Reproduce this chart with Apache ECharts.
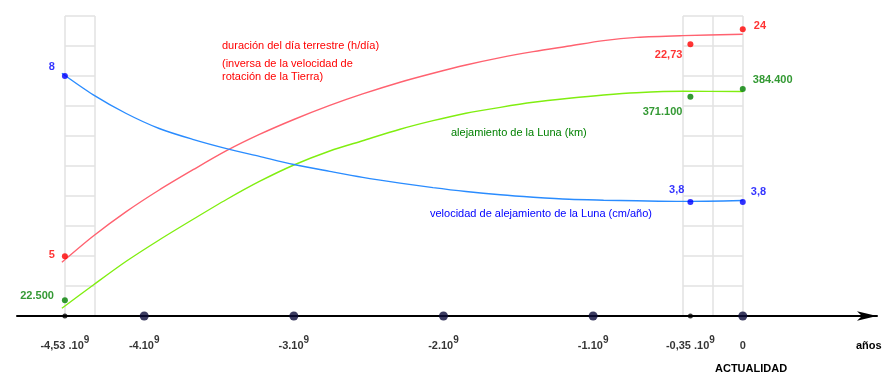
<!DOCTYPE html>
<html>
<head>
<meta charset="utf-8">
<script src="https://cdn.jsdelivr.net/npm/echarts@6/dist/echarts.min.js"></script>
<style>
html,body{margin:0;padding:0;background:#fff;}
#chart{width:893px;height:389px;}
</style>
</head>
<body>
<div id="chart"></div>
<script>
// ---- DATA (years in units of 10^9 años, negative = past) ----
const axisYears = [-4.53, -4, -3, -2, -1, -0.35, 0];
const axisLabels = ['-4,53 .10', '-4.10', '-3.10', '-2.10', '-1.10', '-0,35 .10', '0'];
const axisExponents = ['9', '9', '9', '9', '9', '9', ''];

const dotYears = [-4.53, -0.35, 0];
const dayLength = [5, 22.73, 24];            // h/día
const dayLengthLabels = ['5', '22,73', '24'];
const moonDistance = [22500, 371100, 384400]; // km
const moonDistanceLabels = ['22.500', '371.100', '384.400'];
const recessionRate = [8, 3.8, 3.8];         // cm/año
const recessionRateLabels = ['8', '3,8', '3,8'];

const curveYears = [-4.55, -4.34, -4.12, -3.9, -3.67, -3.45, -3.23, -3.0, -2.76, -2.54,
                    -2.29, -2.07, -1.85, -1.62, -1.4, -1.16, -0.93, -0.71, -0.4, 0];
const dayLengthCurve = [4.49, 6.69, 8.73, 10.54, 12.26, 13.83, 15.19, 16.44, 17.62, 18.58,
                        19.56, 20.31, 21.0, 21.62, 22.12, 22.59, 23.04, 23.31, 23.46, 23.57];
const moonDistanceCurve = [8800, 48700, 89300, 125800, 161700, 195100, 226000, 254200, 278200, 295800,
                           315400, 330100, 342800, 353000, 361600, 368500, 374100, 378000, 380400, 380100];
const recessionRateCurve = [8.09, 7.37, 6.75, 6.25, 5.88, 5.58, 5.32, 5.05, 4.82, 4.62,
                            4.43, 4.28, 4.15, 4.04, 3.96, 3.89, 3.86, 3.84, 3.82, 3.85];

const annotations = {
  day: ['duración del día terrestre (h/día)', '(inversa de la velocidad de', 'rotación de la Tierra)'],
  distance: 'alejamiento de la Luna (km)',
  rate: 'velocidad de alejamiento de la Luna (cm/año)',
  unit: 'años',
  now: 'ACTUALIDAD'
};

// ---- STYLES ----
const FONT = '"Liberation Sans", Arial, sans-serif';
const RED = '#ff0000', GREEN = '#008000', BLUE = '#0000ff';
const hidden = {axisLine:{show:false}, axisTick:{show:false}, axisLabel:{show:false}};
const gridLine = {show:true, lineStyle:{color:'#e2e2e2', width:1.5}};

// label placement per dot (align, offset from dot centre)
const dayLabelPos = [['right', [-10, -1]], ['right', [-8, 11]], ['left', [11, -3]]];
const distLabelPos = [['right', [-11, -4]], ['right', [-8, 15]], ['left', [10, -9]]];
const rateLabelPos = [['right', [-10, -9]], ['right', [-6, -12]], ['left', [8, -10]]];

function dotSeries(values, labels, pos, color, yIdx) {
  return {
    type: 'scatter', xAxisIndex: 0, yAxisIndex: yIdx, clip: false, z: 5,
    symbolSize: 6, itemStyle: {color: color},
    data: dotYears.map((x, i) => ({
      value: [x, values[i]],
      label: {
        show: true, position: 'inside', formatter: labels[i],
        align: pos[i][0], verticalAlign: 'middle', offset: pos[i][1],
        color: color, fontSize: 11, fontWeight: 'bold', fontFamily: FONT
      }
    }))
  };
}

function curve(values, color, yIdx) {
  return {
    type: 'line', xAxisIndex: 0, yAxisIndex: yIdx, smooth: 0.3, showSymbol: false,
    lineStyle: {color: color, width: 1.4}, z: 3,
    data: curveYears.map((x, i) => [x, values[i]])
  };
}

const chart = echarts.init(document.getElementById('chart'), null, {renderer: 'canvas'});
const option = {
  animation: false,
  backgroundColor: '#ffffff',
  textStyle: {fontFamily: FONT},
  grid: [
    {left: 17, right: 16, top: 16, bottom: 73},
    {left: 65, width: 30, top: 16, height: 300},
    {left: 683, width: 60, top: 16, height: 300}
  ],
  xAxis: [
    {gridIndex: 0, type: 'value', min: -4.85, max: 0.897,
     axisLine: {show: true, onZero: false, lineStyle: {color: '#000', width: 2},
                symbol: ['none', 'arrow'], symbolSize: [7, 20]},
     axisTick: {show: false}, axisLabel: {show: false}, splitLine: {show: false}},
    Object.assign({gridIndex: 1, type: 'value', min: 0, max: 1, interval: 1, splitLine: gridLine}, hidden),
    Object.assign({gridIndex: 2, type: 'value', min: 0, max: 2, interval: 1, splitLine: gridLine}, hidden)
  ],
  yAxis: [
    Object.assign({gridIndex: 0, type: 'value', min: 0, max: 25.1, splitLine: {show: false}}, hidden),
    Object.assign({gridIndex: 0, type: 'value', min: -4400, max: 509400, splitLine: {show: false}}, hidden),
    Object.assign({gridIndex: 0, type: 'value', min: 0, max: 10, splitLine: {show: false}}, hidden),
    Object.assign({gridIndex: 0, type: 'value', min: 0, max: 1, splitLine: {show: false}}, hidden),
    Object.assign({gridIndex: 1, type: 'value', min: 0, max: 10, interval: 1, splitLine: gridLine}, hidden),
    Object.assign({gridIndex: 2, type: 'value', min: 0, max: 10, interval: 1, splitLine: gridLine}, hidden)
  ],
  series: [
    curve(dayLengthCurve, '#ff6270', 0),
    curve(moonDistanceCurve, '#80ee10', 1),
    curve(recessionRateCurve, '#2a8cff', 2),
    dotSeries(dayLength, dayLengthLabels, dayLabelPos, RED, 0),
    dotSeries(moonDistance, moonDistanceLabels, distLabelPos, GREEN, 1),
    dotSeries(recessionRate, recessionRateLabels, rateLabelPos, BLUE, 2),
    {
      type: 'scatter', xAxisIndex: 0, yAxisIndex: 3, clip: false, z: 6,
      data: axisYears.map((x, i) => {
        const major = Number.isInteger(x);
        return {
          value: [x, 0],
          symbolSize: major ? 9 : 5,
          itemStyle: {color: major ? '#0a0a38' : '#000000'},
          label: {
            show: true, position: 'inside', offset: [0, 30],
            formatter: '{b|' + axisLabels[i] + '}' + (axisExponents[i] ? '{s|' + axisExponents[i] + '}' : ''),
            rich: {
              b: {fontSize: 11, fontWeight: 'bold', color: '#000', fontFamily: FONT},
              s: {fontSize: 10, fontWeight: 'bold', color: '#000', fontFamily: FONT, padding: [0, 0, 11, 0]}
            }
          }
        };
      })
    }
  ],
  graphic: [
    {type: 'text', x: 222, y: 45.5, style: {text: annotations.day[0], fill: RED, fontSize: 11, fontFamily: FONT, verticalAlign: 'middle'}},
    {type: 'text', x: 222, y: 63.8, style: {text: annotations.day[1], fill: RED, fontSize: 11, fontFamily: FONT, verticalAlign: 'middle'}},
    {type: 'text', x: 222, y: 77.2, style: {text: annotations.day[2], fill: RED, fontSize: 11, fontFamily: FONT, verticalAlign: 'middle'}},
    {type: 'text', x: 451, y: 132.5, style: {text: annotations.distance, fill: GREEN, fontSize: 11, fontFamily: FONT, verticalAlign: 'middle'}},
    {type: 'text', x: 430, y: 214, style: {text: annotations.rate, fill: BLUE, fontSize: 11, fontFamily: FONT, verticalAlign: 'middle'}},
    {type: 'text', x: 856, y: 346, style: {text: annotations.unit, fill: '#000', fontSize: 11, fontWeight: 'bold', fontFamily: FONT, verticalAlign: 'middle'}},
    {type: 'text', x: 715, y: 369, style: {text: annotations.now, fill: '#000', fontSize: 11, fontWeight: 'bold', fontFamily: FONT, verticalAlign: 'middle'}}
  ]
};
chart.setOption(option);
</script>
</body>
</html>
